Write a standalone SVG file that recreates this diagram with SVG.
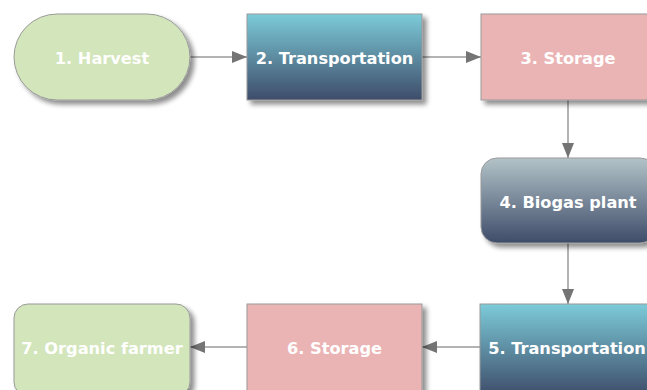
<svg xmlns="http://www.w3.org/2000/svg" width="647" height="390" viewBox="0 0 647 390">
  <style>
    .box { stroke: #9a9a9a; stroke-width: 1; filter: url(#shadow); }
    .green { fill: #d2e5bb; }
    .pink { fill: #ebb4b4; }
    .blue { fill: url(#gBlue); }
    .slate { fill: url(#gSlate); }
    .label { font-family: "DejaVu Sans", Verdana, sans-serif; font-weight: bold; font-size: 16.2px; fill: #ffffff; text-anchor: middle; dominant-baseline: central; }
    .edge { stroke: #9a9a9a; stroke-width: 1.5; fill: none; marker-end: url(#arrow); }
  </style>
  <defs>
    <linearGradient id="gBlue" x1="0" y1="0" x2="0" y2="1">
      <stop offset="0" stop-color="#7ccbd9"/>
      <stop offset="1" stop-color="#3e4c69"/>
    </linearGradient>
    <linearGradient id="gSlate" x1="0" y1="0" x2="0" y2="1">
      <stop offset="0" stop-color="#b3c3c8"/>
      <stop offset="1" stop-color="#3e4c69"/>
    </linearGradient>
    <filter id="shadow" x="-20%" y="-20%" width="140%" height="150%">
      <feGaussianBlur in="SourceAlpha" stdDeviation="2.5"/>
      <feOffset dx="4" dy="4" result="b"/>
      <feComponentTransfer><feFuncA type="linear" slope="0.45"/></feComponentTransfer>
      <feMerge><feMergeNode/><feMergeNode in="SourceGraphic"/></feMerge>
    </filter>
    <marker id="arrow" viewBox="0 0 15 12" refX="15" refY="6" markerWidth="15" markerHeight="12" markerUnits="userSpaceOnUse" orient="auto">
      <path d="M0,0 L15,6 L0,12 Z" fill="#747474"/>
    </marker>
  </defs>

  <g id="connectors">
    <line class="edge" x1="190" y1="57" x2="247" y2="57"/>
    <line class="edge" x1="422" y1="57" x2="481" y2="57"/>
    <line class="edge" x1="568" y1="100" x2="568" y2="158"/>
    <line class="edge" x1="568" y1="243" x2="568" y2="304"/>
    <line class="edge" x1="480" y1="347" x2="422" y2="347"/>
    <line class="edge" x1="247" y1="347" x2="190" y2="347"/>
  </g>

  <g id="node1">
    <rect class="box green" x="14" y="14" width="176" height="86" rx="43" ry="43"/>
    <text class="label" x="102" y="58">1. Harvest</text>
  </g>
  <g id="node2">
    <rect class="box blue" x="247" y="14" width="175" height="86"/>
    <text class="label" x="334.5" y="58">2. Transportation</text>
  </g>
  <g id="node3">
    <rect class="box pink" x="481" y="14" width="175" height="86"/>
    <text class="label" x="568" y="58">3. Storage</text>
  </g>
  <g id="node4">
    <rect class="box slate" x="481" y="158" width="175" height="85" rx="16" ry="16"/>
    <text class="label" x="568" y="202">4. Biogas plant</text>
  </g>
  <g id="node5">
    <rect class="box blue" x="480" y="304" width="175" height="92"/>
    <text class="label" x="567" y="348">5. Transportation</text>
  </g>
  <g id="node6">
    <rect class="box pink" x="247" y="304" width="175" height="92"/>
    <text class="label" x="334.5" y="348">6. Storage</text>
  </g>
  <g id="node7">
    <rect class="box green" x="14" y="304" width="176" height="92" rx="14" ry="14"/>
    <text class="label" x="102" y="348">7. Organic farmer</text>
  </g>
</svg>
